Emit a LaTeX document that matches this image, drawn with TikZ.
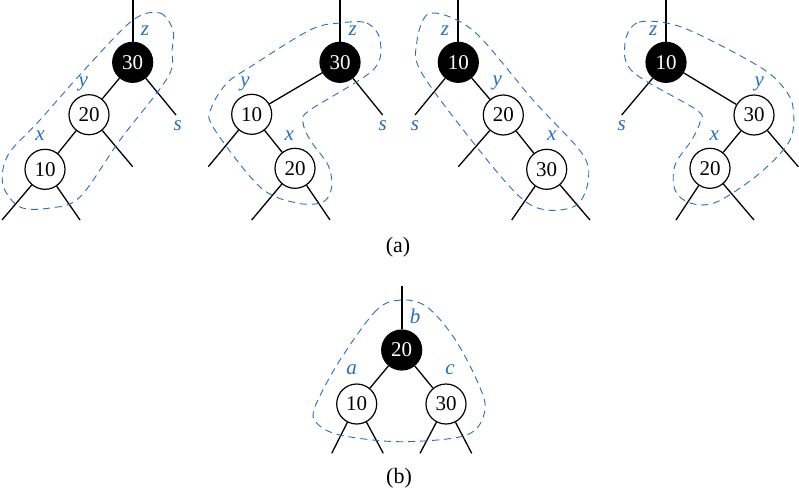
\documentclass[tikz,border=0pt]{standalone}
\usepackage{fontspec}
\setmainfont{Liberation Serif}
\definecolor{lblue}{RGB}{35,110,195}
\begin{document}
\begin{tikzpicture}[x=1pt,y=-1pt,
  every node/.style={font=\fontsize{21}{24}\selectfont},
  bnode/.style={circle,fill=black,draw=black,line width=1.2pt,minimum size=40pt,inner sep=0pt,text=white},
  wnode/.style={circle,fill=white,draw=black,line width=1.2pt,minimum size=40pt,inner sep=0pt},
  edge/.style={line width=1.3pt},
  topedge/.style={line width=1.8pt},
  lbl/.style={text=lblue,font=\fontsize{21}{24}\selectfont\itshape,inner sep=0pt},
  captext/.style={font=\fontsize{22}{24}\selectfont,inner sep=0pt},
  blob/.style={draw=lblue,line width=0.9pt,dash pattern=on 7pt off 5pt}]
\useasboundingbox (0,0) rectangle (799,491);

% ---------- Tree 1 ----------
\node[bnode] (a30) at (132.7,62.3) {30};
\node[wnode] (a20) at (89,114.7) {20};
\node[wnode] (a10) at (45,169.3) {10};
\coordinate (atop) at (132.7,0);
\coordinate (as) at (176,115);
\coordinate (a20r) at (132.7,166.7);
\coordinate (a10l) at (2,220);
\coordinate (a10r) at (80,220);
\draw[topedge] (atop) -- (a30);
\draw[edge] (a30) -- (a20);
\draw[edge] (a20) -- (a10);
\draw[edge] (a30) -- (as);
\draw[edge] (a20) -- (a20r);
\draw[edge] (a10) -- (a10l);
\draw[edge] (a10) -- (a10r);
\node[lbl] (az) at (145,30.7) {z};
\node[lbl] (ay) at (83.3,84) {y};
\node[lbl] (ax) at (40,136) {x};
\node[lbl] (asl) at (177.7,126) {s};
\draw[blob] plot[smooth cycle,tension=0.55] coordinates {(133,20) (160,13) (173,30) (172,50) (168,77) (120,140) (80,197) (50,208) (20,207) (3,185) (8,155) (40,120) (87,67)};

% ---------- Tree 2 ----------
\node[bnode] (b30) at (340,62.3) {30};
\node[wnode] (b10) at (251.7,114.3) {10};
\node[wnode] (b20) at (295,168.3) {20};
\coordinate (btop) at (340,0);
\coordinate (bs) at (382.7,115);
\coordinate (b10l) at (208.3,166.7);
\coordinate (b20l) at (251.7,220);
\coordinate (b20r) at (330,220);
\draw[topedge] (btop) -- (b30);
\draw[edge] (b30) -- (b10);
\draw[edge] (b10) -- (b20);
\draw[edge] (b30) -- (bs);
\draw[edge] (b10) -- (b10l);
\draw[edge] (b20) -- (b20l);
\draw[edge] (b20) -- (b20r);
\node[lbl] (bz) at (352.7,30.7) {z};
\node[lbl] (by) at (245,84) {y};
\node[lbl] (bx) at (289.3,136) {x};
\node[lbl] (bsl) at (382.7,126) {s};
\draw[blob] plot[smooth cycle,tension=0.55] coordinates {(340,23) (366.7,23) (380,40) (373,70) (310,110) (303,122) (310,140) (328,165) (331.7,187) (323,202) (297,203) (260,187) (213,127) (211.7,107) (227,83) (250,67) (310,30)};

% ---------- Tree 3 ----------
\node[bnode] (c10) at (458.3,62.3) {10};
\node[wnode] (c20) at (503.3,115) {20};
\node[wnode] (c30) at (546.7,169.3) {30};
\coordinate (ctop) at (458.3,0);
\coordinate (cs) at (415,115);
\coordinate (c20l) at (458.3,166.7);
\coordinate (c30l) at (511.7,220);
\coordinate (c30r) at (590,220);
\draw[topedge] (ctop) -- (c10);
\draw[edge] (c10) -- (c20);
\draw[edge] (c20) -- (c30);
\draw[edge] (c10) -- (cs);
\draw[edge] (c20) -- (c20l);
\draw[edge] (c30) -- (c30l);
\draw[edge] (c30) -- (c30r);
\node[lbl] (cz) at (445,30.7) {z};
\node[lbl] (cy) at (497.3,83.3) {y};
\node[lbl] (cx) at (551.7,136) {x};
\node[lbl] (csl) at (415,126) {s};
\draw[blob] plot[smooth cycle,tension=0.55] coordinates {(450,17) (426.7,15) (416.7,43) (421.7,73) (476.7,147) (520,197) (546.7,210) (576.7,205) (588.3,180) (581.7,153) (533,100) (480,37)};

% ---------- Tree 4 ----------
\node[bnode] (d10) at (666,62.3) {10};
\node[wnode] (d30) at (754,115) {30};
\node[wnode] (d20) at (710,168.3) {20};
\coordinate (dtop) at (666,0);
\coordinate (ds) at (621.7,115);
\coordinate (d30r) at (798.3,166.7);
\coordinate (d20l) at (676,220);
\coordinate (d20r) at (754,220);
\draw[topedge] (dtop) -- (d10);
\draw[edge] (d10) -- (d30);
\draw[edge] (d30) -- (d20);
\draw[edge] (d10) -- (ds);
\draw[edge] (d30) -- (d30r);
\draw[edge] (d20) -- (d20l);
\draw[edge] (d20) -- (d20r);
\node[lbl] (dz) at (653.3,30.7) {z};
\node[lbl] (dy) at (759.3,84) {y};
\node[lbl] (dx) at (714.3,136) {x};
\node[lbl] (dsl) at (621.7,126) {s};
\draw[blob] plot[smooth cycle,tension=0.55] coordinates {(666.7,23) (636.7,23) (625,43) (633,72) (696.7,110) (700,122) (691.7,140) (675,165) (675,190) (690,203) (716.7,202) (760,173) (790,140) (793,107) (783,87) (760,67) (700,35)};

\node[captext] (capa) at (398,247) {(a)};

% ---------- Tree b ----------
\node[bnode] (e20) at (401.7,350) {20};
\node[wnode] (e10) at (356.7,404) {10};
\node[wnode] (e30) at (446,404) {30};
\coordinate (etop) at (401.7,286);
\coordinate (e10l) at (331.7,453.3);
\coordinate (e10r) at (383.3,453.3);
\coordinate (e30l) at (420,453.3);
\coordinate (e30r) at (471.7,453.3);
\draw[topedge] (etop) -- (e20);
\draw[edge] (e20) -- (e10);
\draw[edge] (e20) -- (e30);
\draw[edge] (e10) -- (e10l);
\draw[edge] (e10) -- (e10r);
\draw[edge] (e30) -- (e30l);
\draw[edge] (e30) -- (e30r);
\node[lbl] (eb) at (415,316.7) {b};
\node[lbl] (ea) at (351.7,370) {a};
\node[lbl] (ec) at (450,370) {c};
\draw[blob] plot[smooth cycle,tension=0.55] coordinates {(401.7,300) (376.7,310) (340,360) (315,406.7) (316.7,423) (340,435) (400,441.7) (466.7,435) (485,410) (476.7,380) (453.3,336.7) (426.7,306.7)};

\node[captext] (capb) at (399,478) {(b)};
\end{tikzpicture}
\end{document}
